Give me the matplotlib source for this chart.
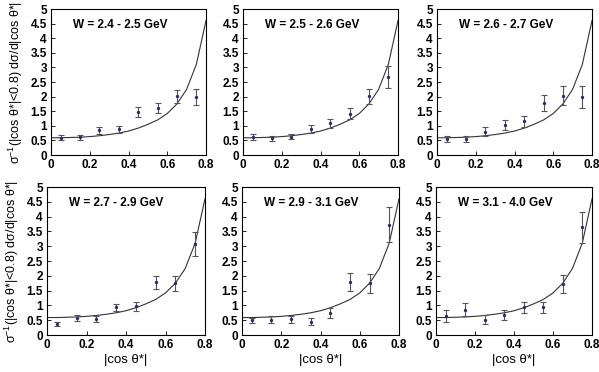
import matplotlib
matplotlib.use("Agg")
import matplotlib.pyplot as plt
import numpy as np

plt.rcParams['font.family'] = ['Liberation Sans', 'DejaVu Sans']
plt.rcParams['mathtext.fontset'] = 'custom'
plt.rcParams['mathtext.rm'] = 'Liberation Sans'
plt.rcParams['mathtext.it'] = 'Liberation Sans'
plt.rcParams['mathtext.default'] = 'regular'

# data
x_pts = [0.05, 0.15, 0.25, 0.35, 0.45, 0.55, 0.65, 0.75]
titles = ["W = 2.4 - 2.5 GeV", "W = 2.5 - 2.6 GeV", "W = 2.6 - 2.7 GeV",
          "W = 2.7 - 2.9 GeV", "W = 2.9 - 3.1 GeV", "W = 3.1 - 4.0 GeV"]
y_w1 = [0.59, 0.61, 0.85, 0.88, 1.48, 1.61, 2.01, 1.98]
e_w1 = [0.09, 0.08, 0.12, 0.12, 0.18, 0.17, 0.22, 0.28]
y_w2 = [0.61, 0.57, 0.63, 0.90, 1.09, 1.41, 2.01, 2.68]
e_w2 = [0.11, 0.09, 0.08, 0.14, 0.16, 0.19, 0.25, 0.37]
y_w3 = [0.55, 0.55, 0.80, 1.04, 1.15, 1.78, 2.03, 1.98]
e_w3 = [0.10, 0.10, 0.15, 0.17, 0.18, 0.27, 0.32, 0.38]
y_w4 = [0.38, 0.57, 0.53, 0.93, 0.97, 1.78, 1.74, 3.07]
e_w4 = [0.07, 0.10, 0.10, 0.13, 0.15, 0.22, 0.25, 0.40]
y_w5 = [0.49, 0.51, 0.53, 0.45, 0.74, 1.78, 1.74, 3.73]
e_w5 = [0.10, 0.12, 0.12, 0.12, 0.17, 0.30, 0.32, 0.58]
y_w6 = [0.65, 0.85, 0.51, 0.68, 0.93, 0.93, 1.73, 3.64]
e_w6 = [0.20, 0.22, 0.15, 0.17, 0.20, 0.20, 0.30, 0.53]
ys = [y_w1, y_w2, y_w3, y_w4, y_w5, y_w6]
es = [e_w1, e_w2, e_w3, e_w4, e_w5, e_w6]

# theory curve (same in every panel)
x_curve = [0.0, 0.05, 0.1, 0.15, 0.2, 0.25, 0.3, 0.35, 0.4, 0.45, 0.5,
           0.55, 0.6, 0.65, 0.7, 0.75, 0.8]
y_curve = [0.59, 0.59, 0.60, 0.61, 0.63, 0.66, 0.70, 0.75, 0.82, 0.92,
           1.05, 1.20, 1.42, 1.75, 2.25, 3.10, 4.60]

W, H = 599, 372
fig = plt.figure(figsize=(W / 100, H / 100), dpi=100)

# pixel boxes (left, top, right, bottom)
boxes = [(51, 9, 206, 155), (243, 9, 398, 155), (437, 9, 592, 155),
         (47, 187, 205, 335), (242, 187, 399, 335), (436, 187, 592, 335)]

ylab = r"σ$^{-1}$(|cos θ*|<0.8) dσ/d|cos θ*|"

for i, (l, t, r, b) in enumerate(boxes):
    ax = fig.add_axes([l / W, 1 - b / H, (r - l) / W, (b - t) / H])
    ax.plot(x_curve, y_curve, color='#333333', lw=0.8)
    ax.errorbar(x_pts, ys[i], yerr=es[i], fmt='o', ms=1.4, color='#2b2b6e',
                ecolor='#555555', elinewidth=0.8, capsize=2, capthick=0.8)
    ax.set_xlim(0, 0.8)
    ax.set_ylim(0, 5)
    ax.set_xticks([0, 0.2, 0.4, 0.6, 0.8])
    ax.set_xticklabels(['0', '0.2', '0.4', '0.6', '0.8'])
    ax.set_yticks([0, 0.5, 1, 1.5, 2, 2.5, 3, 3.5, 4, 4.5, 5])
    ax.set_yticklabels(['0', '0.5', '1', '1.5', '2', '2.5', '3', '3.5', '4', '4.5', '5'])
    ax.tick_params(direction='in', length=3, width=0.6, labelsize=8.5, pad=3)
    for lab in ax.get_xticklabels() + ax.get_yticklabels():
        lab.set_fontweight('bold')
    for s in ax.spines.values():
        s.set_linewidth(0.8)
    ax.text(0.14, 0.89, titles[i], transform=ax.transAxes, fontsize=8.5,
            fontweight='bold', ha='left', va='center')
    if i in (0, 3):
        ax.set_ylabel(ylab, fontsize=9, labelpad=4)
    if i >= 3:
        ax.set_xlabel("|cos θ*|", fontsize=9.5, labelpad=2)

fig.savefig("out.png", dpi=100)
